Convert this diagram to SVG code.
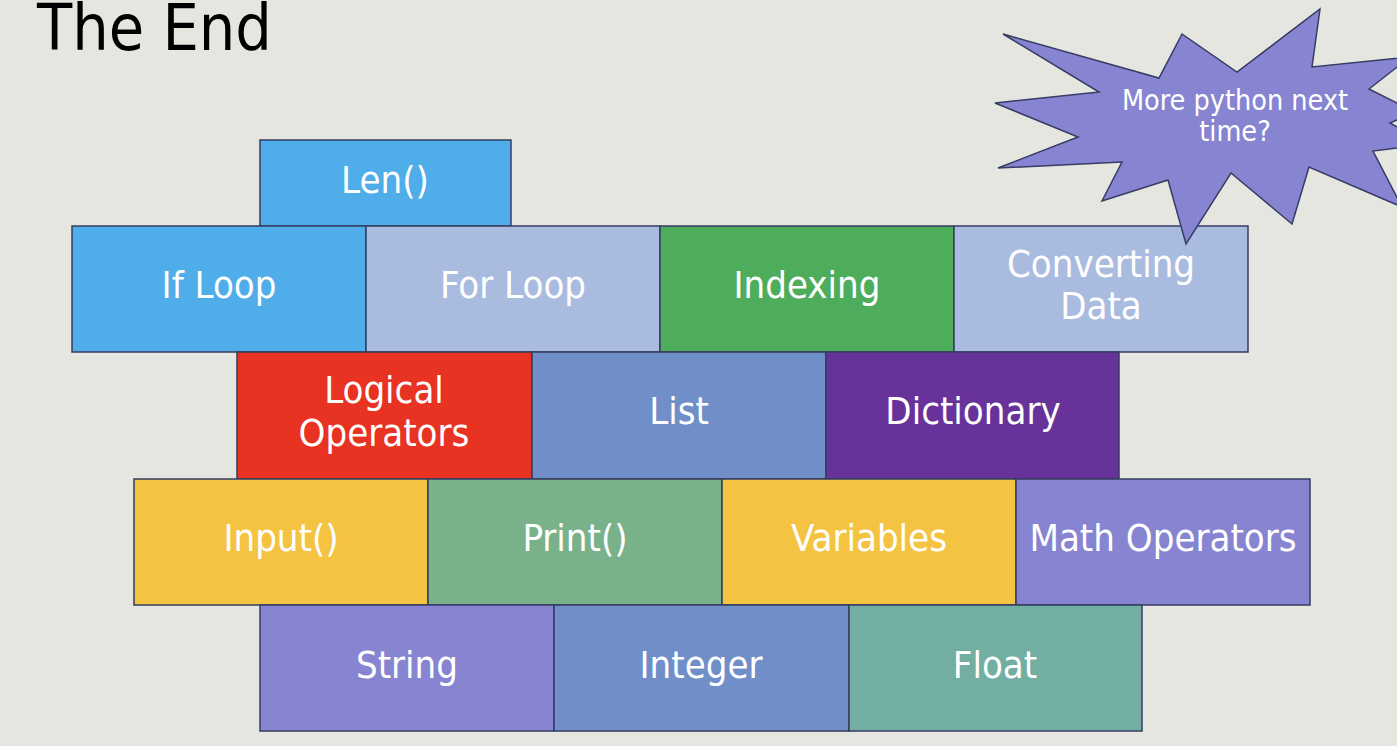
<svg xmlns="http://www.w3.org/2000/svg" width="1397" height="746" viewBox="0 0 1397 746">
<style>
  .box { stroke: #363C62; stroke-width: 1.5; }
  .lbl { font-family: "DejaVu Sans Condensed", "DejaVu Sans", sans-serif; font-stretch: condensed; font-size: 38px; fill: #FFFFFF; text-anchor: middle; }
  .title { font-family: "DejaVu Sans Condensed", "DejaVu Sans", sans-serif; font-stretch: condensed; font-size: 64px; fill: #000000; }
  .star { font-family: "DejaVu Sans Condensed", "DejaVu Sans", sans-serif; font-stretch: condensed; font-size: 28.5px; fill: #FFFFFF; text-anchor: middle; }
  .blue { fill: #4FADEA; }
  .lav { fill: #A9BCE0; }
  .green { fill: #4EAD5B; }
  .red { fill: #E83323; }
  .steel { fill: #708EC7; }
  .purple { fill: #673299; }
  .yellow { fill: #F5C342; }
  .sage { fill: #79B28A; }
  .violet { fill: #8784D2; }
  .teal { fill: #72AFA2; }
</style>
<rect x="0" y="0" width="1397" height="746" fill="#E6E6E1"/>
<text class="title" x="37" y="50">The End</text>

<g id="connectors"></g>

<g id="len"><rect class="box blue" x="260" y="140" width="251" height="86"/><text class="lbl" x="385" y="193">Len()</text></g>

<g id="if-loop"><rect class="box blue" x="72" y="226" width="294" height="126"/><text class="lbl" x="219" y="298">If Loop</text></g>
<g id="for-loop"><rect class="box lav" x="366" y="226" width="294" height="126"/><text class="lbl" x="513" y="298">For Loop</text></g>
<g id="indexing"><rect class="box green" x="660" y="226" width="294" height="126"/><text class="lbl" x="807" y="298">Indexing</text></g>
<g id="converting-data"><rect class="box lav" x="954" y="226" width="294" height="126"/><text class="lbl" x="1101" y="277">Converting</text><text class="lbl" x="1101" y="319">Data</text></g>

<g id="logical-operators"><rect class="box red" x="237" y="352" width="295" height="127"/><text class="lbl" x="384" y="403">Logical</text><text class="lbl" x="384" y="446">Operators</text></g>
<g id="list"><rect class="box steel" x="532" y="352" width="294" height="127"/><text class="lbl" x="679" y="424">List</text></g>
<g id="dictionary"><rect class="box purple" x="826" y="352" width="293" height="127"/><text class="lbl" x="973" y="424">Dictionary</text></g>

<g id="input"><rect class="box yellow" x="134" y="479" width="294" height="126"/><text class="lbl" x="281" y="551">Input()</text></g>
<g id="print"><rect class="box sage" x="428" y="479" width="294" height="126"/><text class="lbl" x="575" y="551">Print()</text></g>
<g id="variables"><rect class="box yellow" x="722" y="479" width="294" height="126"/><text class="lbl" x="869" y="551">Variables</text></g>
<g id="math-operators"><rect class="box violet" x="1016" y="479" width="294" height="126"/><text class="lbl" x="1163" y="551">Math Operators</text></g>

<g id="string"><rect class="box violet" x="260" y="605" width="294" height="126"/><text class="lbl" x="407" y="678">String</text></g>
<g id="integer"><rect class="box steel" x="554" y="605" width="295" height="126"/><text class="lbl" x="701" y="678">Integer</text></g>
<g id="float"><rect class="box teal" x="849" y="605" width="293" height="126"/><text class="lbl" x="995" y="678">Float</text></g>

<g id="starburst">
  <polygon class="box violet" points="1003,34 1159,78 1182,34 1237,72 1320,9 1312,67 1410,57 1369,89 1415,112 1390,123 1427,144 1373,151 1402,207 1309,167 1292,224 1231,173 1186,244 1168,180 1102,201 1122,162 998,168 1078,137 995,103 1099,92"/>
  <text class="star" x="1235" y="110">More python next</text>
  <text class="star" x="1235" y="141">time?</text>
</g>
</svg>
